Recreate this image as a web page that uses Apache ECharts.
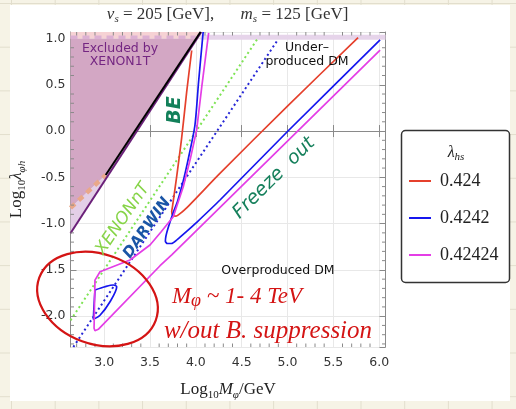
<!DOCTYPE html>
<html><head><meta charset="utf-8">
<style>
html,body{margin:0;padding:0;}
body{width:516px;height:409px;overflow:hidden;background-color:#f6f3e6;
background-image:linear-gradient(to right,#e2decd 1px,transparent 1px),linear-gradient(to bottom,#e2decd 1px,transparent 1px);
background-size:43.7px 43.7px;background-position:11px 3px;}
#panel{position:absolute;left:10px;top:5px;width:500px;height:396px;background:#fff;}
#chart{position:absolute;left:0;top:0;width:516px;height:409px;}
</style>
<script src="https://cdn.jsdelivr.net/npm/echarts@6/dist/echarts.min.js"></script>
</head><body><div id="panel"></div><div id="chart"></div>
<script>
// ---- data ----
const xRange = [2.633, 6.069];
const yRange = [-2.333, 1.07];
const lambdaNames = ['0.424', '0.4242', '0.42424'];
const curve424 = [[3.955,0.87],[3.90,0.42],[3.845,-0.08],[3.79,-0.50],[3.745,-0.82],[3.737,-0.87],[3.745,-0.905],[3.773,-0.92],[3.81,-0.905],[3.9,-0.83],[4.26,-0.46],[5.0,0.27],[5.77,1.01]];
const curve4242 = [[4.08,1.07],[4.03,0.53],[3.99,0.06],[3.92,-0.29],[3.86,-0.55],[3.80,-0.76],[3.75,-0.89],[3.70,-1.04],[3.675,-1.13],[3.668,-1.19],[3.69,-1.215],[3.733,-1.215],[3.80,-1.17],[3.9,-1.085],[4.0,-0.995],[4.264,-0.745],[5.0,-0.005],[6.01,0.985]];
const loop4242 = [[2.900,-1.717],[3.009,-1.682],[3.100,-1.663],[3.137,-1.682],[3.064,-1.844],[2.955,-1.99],[2.882,-2.034],[2.889,-1.898],[2.900,-1.717]];
const curve42424 = [[4.14,1.06],[4.065,0.48],[4.009,0.011],[3.94,-0.30],[3.863,-0.601],[3.754,-0.925],[3.62,-1.09],[3.50,-1.231],[3.282,-1.393],[2.955,-1.52],[2.90,-1.61],[2.89,-2.131],[2.90,-2.157],[2.936,-2.142],[3.61,-1.455],[3.74,-1.335],[6.01,0.875]];
const xenonNTLine = [[2.633,-2.045],[4.671,0.994]];
const darwinLine = [[2.664,-2.333],[4.90,0.994]];
const xenon1TLine = [[3.017,-0.475],[4.051,1.07]];
const boundaryLine = [[2.633,-1.105],[4.06,1.07]];
const orangeDashed = [[2.633,-0.83],[3.017,-0.475]];
const excludedRegion = [[2.633,1.0],[4.004,1.0],[3.017,-0.475],[2.633,-0.83]];
const lightRegion = [[2.633,-0.83],[3.017,-0.475],[4.051,1.07],[4.06,1.07],[2.633,-1.105]];
const topPinkBand = [[2.633,1.0],[4.004,1.0],[4.051,1.07],[2.633,1.07]];
const topDashLeft = [[2.633,1.012],[4.0,1.012]];
const topBandRight = [[4.05,1.012],[6.069,1.012]];
const xMinorTicks = []; for (let k = 27; k <= 60; k++) if (k % 5) xMinorTicks.push(k / 10);
const yMinorTicks = []; for (let k = -23; k <= 10; k++) if (k % 5) yMinorTicks.push(k / 10);

const SERIF = '"Liberation Serif","DejaVu Serif",serif';
const SANS = '"DejaVu Sans",sans-serif';

function polySeries(pts, fill) {
  return {type:'custom', coordinateSystem:'cartesian2d', silent:true, z:1, clip:false,
    data:[pts[0]],
    renderItem:(p, api) => ({type:'polygon', shape:{points: pts.map(q => api.coord(q))}, style:{fill:fill, stroke:null}})};
}
function lineSeries(name, pts, color, width, type, smooth, z) {
  return {type:'line', name:name, data:pts, symbol:'none', silent:true, smooth:smooth||false,
    color:color, lineStyle:{color:color, width:width, type:type||'solid'}, z:z||3, animation:false};
}
function tickSeries(vals, isX) {
  return {type:'custom', coordinateSystem:'cartesian2d', silent:true, z:5, clip:false,
    data: vals.map(v => isX ? [v, yRange[0]] : [xRange[0], v]),
    renderItem:(p, api) => {
      const v = isX ? api.value(0) : api.value(1);
      const a = isX ? api.coord([v, yRange[0]]) : api.coord([xRange[0], v]);
      const b = isX ? api.coord([v, yRange[1]]) : api.coord([xRange[1], v]);
      const L = 3.5;
      const s = {stroke:'#8a8a8a', lineWidth:1};
      return {type:'group', children: isX ? [
        {type:'line', shape:{x1:a[0],y1:a[1],x2:a[0],y2:a[1]-L}, style:s},
        {type:'line', shape:{x1:b[0],y1:b[1],x2:b[0],y2:b[1]+L}, style:s}] : [
        {type:'line', shape:{x1:a[0],y1:a[1],x2:a[0]+L,y2:a[1]}, style:s},
        {type:'line', shape:{x1:b[0],y1:b[1],x2:b[0]-L,y2:b[1]}, style:s}]};
    }};
}

const axisCommon = {
  type:'value', axisLine:{show:true, lineStyle:{color:'#8a8a8a', width:1}},
  axisTick:{show:true, inside:true, length:6, lineStyle:{color:'#8a8a8a'}},
  splitLine:{show:false}
};
const nameRich = {
  n:{fontFamily:SERIF, fontSize:17, lineHeight:22, color:'#222'},
  i:{fontFamily:SERIF, fontSize:17, fontStyle:'italic', lineHeight:22, color:'#222'},
  s:{fontFamily:SERIF, fontSize:11, lineHeight:11, verticalAlign:'bottom', color:'#222'},
  si:{fontFamily:SERIF, fontSize:11, fontStyle:'italic', lineHeight:11, verticalAlign:'bottom', color:'#222'}
};
const titleRich = {n:{fontFamily:SERIF, fontSize:17, lineHeight:20, fill:'#333'}, i:{fontFamily:SERIF, fontSize:17, fontStyle:'italic', lineHeight:20, fill:'#333'},
  s:{fontFamily:SERIF, fontSize:11, fontStyle:'italic', lineHeight:11, verticalAlign:'bottom', fill:'#333'}};
const C = {textAlign:'center', textVerticalAlign:'middle', align:'center', verticalAlign:'middle'};

const chart = echarts.init(document.getElementById('chart'), null, {renderer:'canvas'});
chart.setOption({
  animation:false,
  grid:{left:70.5, top:32, width:315, height:315, containLabel:false},
  xAxis:[
    Object.assign({}, axisCommon, {position:'bottom', min:xRange[0], max:xRange[1], splitNumber:7,
      splitLine:{show:true, lineStyle:{color:'#e8e8e8'}},
      axisLabel:{showMinLabel:false, showMaxLabel:false, margin:9, fontFamily:SANS, fontSize:12.5, color:'#333', formatter:v => v.toFixed(1)},
      name:'{n|Log}{s|10}{i|M}{si|φ}{n|/GeV}', nameLocation:'middle', nameGap:32, nameTextStyle:{rich:nameRich}}),
    Object.assign({}, axisCommon, {position:'top', min:xRange[0], max:xRange[1], splitNumber:7, axisLabel:{show:false}})
  ],
  yAxis:[
    Object.assign({}, axisCommon, {position:'left', min:yRange[0], max:yRange[1], splitNumber:7,
      splitLine:{show:true, lineStyle:{color:'#e8e8e8'}},
      axisLabel:{showMinLabel:false, showMaxLabel:false, margin:5, fontFamily:SANS, fontSize:12.5, color:'#333', formatter:v => v.toFixed(1)},
      name:'{n|Log}{s|10}{i|λ}{si|φh}', nameLocation:'middle', nameRotate:90, nameGap:43, nameTextStyle:{rich:nameRich}}),
    Object.assign({}, axisCommon, {position:'right', min:yRange[0], max:yRange[1], splitNumber:7, axisLabel:{show:false}})
  ],
  legend:{data:lambdaNames, orient:'vertical', left:409, top:171, padding:0, itemWidth:22, itemHeight:2, icon:'rect',
    itemGap:17, selectedMode:false,
    textStyle:{fontFamily:SERIF, fontSize:18, color:'#222', lineHeight:20, padding:[0,0,0,4]}},
  series:[
    polySeries(lightRegion, '#e3cfe7'),
    polySeries(excludedRegion, '#d3a7c4'),
    polySeries(topPinkBand, '#f6d2d4'),
    lineSeries('topDashL', topDashLeft, '#dcb0d3', 3.5, [7,5]),
    lineSeries('topBandR', topBandRight, '#e6d4ea', 5),
    lineSeries('orange', orangeDashed, '#e9a88a', 4.5, [6,5]),
    lineSeries('boundary', boundaryLine, '#6b2079', 2),
    lineSeries('xenon1T', xenon1TLine, '#000000', 2),
    lineSeries('xenonNT', xenonNTLine, '#7ee354', 2, [2,3]),
    lineSeries('darwin', darwinLine, '#2626d6', 2, [2,3]),
    lineSeries(lambdaNames[0], curve424, '#e5402c', 1.7, 'solid', 0.25, 4),
    lineSeries(lambdaNames[1], curve4242, '#1616ee', 1.7, 'solid', 0.25, 4),
    lineSeries('loop', loop4242, '#1616ee', 1.7, 'solid', 0.3, 4),
    lineSeries(lambdaNames[2], curve42424, '#e43ee6', 1.7, 'solid', false, 4),
    tickSeries(xMinorTicks, true),
    tickSeries(yMinorTicks, false)
  ],
  graphic:[
    {type:'text', x:160.5, y:15, z:10, style:Object.assign({text:'{i|v}{s|s}{n| = 205 [GeV],}', rich:titleRich}, C)},
    {type:'text', x:294.5, y:15, z:10, style:Object.assign({text:'{i|m}{s|s}{n| = 125 [GeV]}', rich:titleRich}, C)},
    {type:'rect', shape:{x:401.5, y:130.5, width:108, height:152, r:4}, style:{fill:'#fff', stroke:'#333', lineWidth:1.5}, z:-1},
    {type:'text', x:456, y:153, z:10, style:Object.assign({text:'{i|λ}{s|hs}',
      rich:{i:{fontFamily:SERIF, fontSize:16, fontStyle:'italic', lineHeight:20, fill:'#222'}, s:{fontFamily:SERIF, fontSize:11, fontStyle:'italic', lineHeight:11, verticalAlign:'bottom', fill:'#222'}}}, C)},
    {type:'text', x:120, y:55, z:20, style:Object.assign({text:'Excluded by\nXENON1T', font:'12.5px "DejaVu Sans"', lineHeight:13.5, fill:'#742682'}, C)},
    {type:'text', x:307, y:55, z:20, style:Object.assign({text:'Under–\nproduced DM', font:'12.5px "DejaVu Sans"', lineHeight:14, fill:'#111'}, C)},
    {type:'text', x:278, y:271, z:20, style:Object.assign({text:'Overproduced DM', font:'12.5px "DejaVu Sans"', fill:'#111'}, C)},
    {type:'ellipse', x:97.5, y:299, rotation:-0.35, shape:{cx:0, cy:0, rx:62, ry:45}, style:{fill:'none', stroke:'#d41414', lineWidth:2.2}, z:20},
    {type:'text', x:175, y:110, rotation:Math.PI/2, z:20, style:Object.assign({text:'BE', font:'italic bold 19px "DejaVu Sans"', fill:'#13805a'}, C)},
    {type:'text', x:123, y:219, rotation:0.97, z:20, style:Object.assign({text:'XENONnT', font:'italic 17px "DejaVu Sans"', fill:'#86d447'}, C)},
    {type:'text', x:147, y:228, rotation:0.96, z:20, style:Object.assign({text:'DARWIN', font:'italic bold 15px "DejaVu Sans"', fill:'#1a55a6'}, C)},
    {type:'text', x:274, y:178, rotation:0.78, z:20, style:Object.assign({text:'Freeze  out', font:'italic 19px "DejaVu Sans"', fill:'#16805c'}, C)},
    {type:'text', x:237, y:297, z:20, style:Object.assign({text:'{a|M}{b|φ}{a| ~ 1- 4 TeV}',
      rich:{a:{fontFamily:SERIF, fontSize:23, fontStyle:'italic', lineHeight:26, fill:'#d41414'}, b:{fontFamily:SERIF, fontSize:18, fontStyle:'italic', lineHeight:18, verticalAlign:'bottom', fill:'#d41414'}}}, C)},
    {type:'text', x:268, y:331, z:20, style:Object.assign({text:'w/out B. suppression', font:'italic 25px "Liberation Serif"', fill:'#d41414'}, C)}
  ]
});
</script></body></html>
